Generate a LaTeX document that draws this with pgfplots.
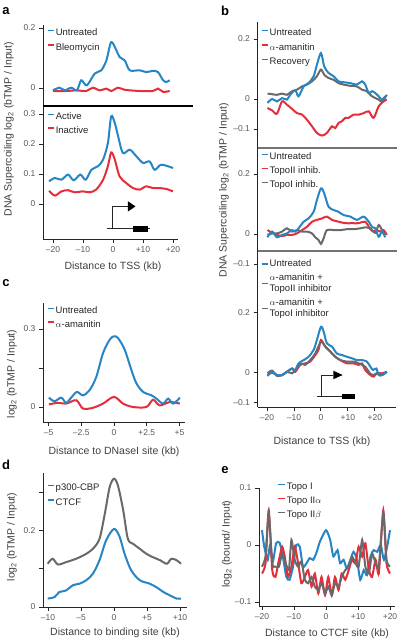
\documentclass[border=0pt]{standalone}
\usepackage{pgfplots}
\pgfplotsset{compat=1.18}
\usepackage{fontspec}
\setmainfont{Liberation Sans}
\definecolor{cblue}{RGB}{38,134,197}
\definecolor{cred}{RGB}{230,45,60}
\definecolor{cgray}{RGB}{105,105,105}
\pgfplotsset{
 base/.style={scale only axis, anchor=south west,
   axis line style={line width=0.9pt, black!85},
   tick style={line width=0.9pt, black!85}, major tick length=4pt, tick align=outside,
   ticklabel style={font=\fontsize{8.5}{9}\selectfont, text=black!65},
   legend cell align=left,
   legend style={draw=none, fill=none, inner sep=0pt, row sep=2.5pt,
     font=\fontsize{9.5}{11}\selectfont, text=black!85, anchor=north west,
     nodes={inner sep=1pt, text depth=0.25em, text height=0.75em}},
   legend image code/.code={\draw[##1, line width=1.5pt] (0pt,0.3em) -- (6pt,0.3em);},
   every axis plot/.append style={line width=2pt, smooth, tension=0.5, no markers},
 },
 top/.style={base, axis x line=none, axis y line*=left, xtick=\empty},
 bot/.style={base, axis x line*=bottom, axis y line*=left},
}
\begin{document}
\begin{tikzpicture}
\useasboundingbox (0pt,0pt) rectangle (400pt,642pt);
% ---------------- panel a top
\begin{axis}[top, at={(43pt,536pt)}, width=135pt, height=81pt,
  xmin=-23.33, xmax=21.67, ymin=-0.06, ymax=0.21,
  ytick={0,0.2}, yticklabels={0,0.2}, legend style={at={(0.03,0.972)}}]
\addlegendimage{cblue}\addlegendentry{Untreated}
\addlegendimage{cred}\addlegendentry{Bleomycin}
\addplot[cred, forget plot] coordinates {(-20,-0.01) (-15.6,-0.01) (-12.2,-0.008) (-8.9,-0.01) (-6.7,0.001) (-4.4,-0.008) (-2.2,-0.002) (-0.6,-0.01) (1.7,0.001) (3.9,-0.006) (8.9,-0.01) (13.3,-0.01) (15,-0.002) (16.7,-0.013) (18.9,-0.01)};
\addplot[cblue, forget plot] coordinates {(-20,-0.0078) (-17.8,0.001) (-16.1,-0.0078) (-13.9,0.001) (-12,-0.0078) (-10.6,0.0256) (-8.7,0.0089) (-6.1,0.048) (-3.9,0.059) (-2.2,0.092) (-0.6,0.153) (1.1,0.126) (2.2,0.103) (3.9,0.092) (5.6,0.059) (8.9,0.059) (11.1,0.053) (13.3,0.057) (15,0.053) (16.7,0.026) (17.8,0.02) (18.9,0.026)};
\end{axis}
% ---------------- panel a bottom
\begin{axis}[bot, at={(43pt,403pt)}, width=135pt, height=133pt,
  xmin=-23.33, xmax=21.67, ymin=-0.1167, ymax=0.3267,
  ytick={0,0.1,0.2,0.3}, yticklabels={0,0.1,0.2,0.3},
  xtick={-20,-10,0,10,20}, xticklabels={–20,–10,0,+10,+20},
  legend style={at={(0.03,0.961)}, row sep=1.5pt}]
\addlegendimage{cblue}\addlegendentry{Active}
\addlegendimage{cred}\addlegendentry{Inactive}
\addplot[cred, forget plot] coordinates {(-21.3,0.044) (-19.4,0.028) (-17.2,0.042) (-15,0.046) (-12.8,0.039) (-10,0.042) (-7.8,0.039) (-5.6,0.048) (-3.3,0.081) (-1.7,0.126) (-0.6,0.172) (0.6,0.148) (2.2,0.092) (4.4,0.07) (6.7,0.053) (8.9,0.048) (11.1,0.059) (13.3,0.053) (15.6,0.053) (17.8,0.05) (20,0.042)};
\addplot[cblue, forget plot] coordinates {(-21.3,0.0756) (-19.4,0.0867) (-17.2,0.081) (-15,0.098) (-13.1,0.079) (-10.9,0.098) (-9.1,0.081) (-7.2,0.114) (-5,0.126) (-3.3,0.148) (-1.7,0.203) (-0.6,0.292) (0.6,0.27) (1.7,0.226) (3.3,0.17) (5.6,0.181) (7.8,0.159) (10,0.137) (12.2,0.142) (13.9,0.114) (16.1,0.131) (20,0.12)};
\draw[black!85, line width=0.8pt] (axis cs:-0.33,-0.083) -- (axis cs:-0.33,-0.008) -- (axis cs:5,-0.008);
\fill[black] (axis cs:5,0.009) -- (axis cs:7.5,-0.008) -- (axis cs:5,-0.025) -- cycle;
\draw[black!85, line width=0.8pt] (axis cs:-2,-0.083) -- (axis cs:12.3,-0.083);
\fill[black] (axis cs:6.7,-0.074) rectangle (axis cs:11.7,-0.092);
\end{axis}
\draw[black, line width=1.1pt] (43pt,536pt) -- (193pt,536pt);
% ---------------- panel b top
\begin{axis}[top, at={(257.5pt,494pt)}, width=138.5pt, height=126pt,
  xmin=-23.5, xmax=27.8, ymin=-0.1633, ymax=0.2567,
  ytick={-0.1,0,0.2}, yticklabels={–0.1,0,0.2}, legend style={at={(0.025,0.958)}}]
\addlegendimage{cblue}\addlegendentry{Untreated}
\addlegendimage{cred}\addlegendentry{$\alpha$-amanitin}
\addlegendimage{cgray}\addlegendentry{Recovery}
\addplot[cred, forget plot] coordinates {(-19.8,-0.03) (-18.1,-0.038) (-16.3,-0.049) (-14.4,-0.008) (-12.6,-0.019) (-10.7,-0.033) (-8.9,-0.047) (-7,-0.052) (-5.2,-0.069) (-3.3,-0.091) (-1.5,-0.113) (0.4,-0.122) (2.2,-0.113) (4.1,-0.091) (5.3,-0.097) (6.5,-0.08) (7.8,-0.074) (9,-0.063) (10.2,-0.063) (12.1,-0.052) (14,-0.052) (15.8,-0.047) (17.7,-0.041) (19.5,-0.063) (21.4,-0.024) (23.2,-0.008) (24.4,-0.002)};
\addplot[cgray, forget plot] coordinates {(-19.8,0.018) (-18.1,0.016) (-16.3,0.014) (-14.4,0.018) (-12.6,0.014) (-10.7,0.026) (-8.9,0.031) (-7,0.042) (-5.2,0.048) (-3.3,0.059) (-1.5,0.076) (0,0.098) (1.2,0.081) (2.8,0.07) (4.7,0.064) (6.5,0.053) (8.4,0.048) (10.9,0.044) (13.3,0.042) (15.2,0.031) (17,0.026) (18.9,0.009) (21.4,-0.002) (22.6,-0.008) (24.4,0.014)};
\addplot[cblue, forget plot] coordinates {(-19.8,-0.013) (-18.1,0) (-16.3,-0.008) (-14.4,0.003) (-12.6,-0.002) (-11.4,0.014) (-9.5,0.029) (-8.3,0.009) (-6.4,0.042) (-4.6,0.053) (-2.7,0.076) (-1.5,0.114) (0,0.153) (1.2,0.109) (2.8,0.087) (4.7,0.076) (6.5,0.059) (8.4,0.056) (10.9,0.053) (13.3,0.048) (15.2,0.059) (16.4,0.048) (17.7,0.02) (18.9,0.026) (20.1,0.02) (21.4,0.009) (22.6,-0.002) (23.8,0.009)};
\end{axis}
% ---------------- panel b middle
\begin{axis}[top, at={(257.5pt,378pt)}, width=138.5pt, height=116pt,
  xmin=-23.5, xmax=27.8, ymin=-0.1, ymax=0.2867,
  ytick={-0.1,0,0.2}, yticklabels={–0.1,0,0.2}, legend style={at={(0.025,0.972)}, row sep=2pt}]
\addlegendimage{cblue}\addlegendentry{Untreated}
\addlegendimage{cred}\addlegendentry{TopoII inhib.}
\addlegendimage{cgray}\addlegendentry{TopoI inhib.}
\addplot[cred, forget plot] coordinates {(-19.8,0.013) (-18.1,0.004) (-16.3,-0.003) (-14.4,-0.007) (-12.6,-0.003) (-10.7,-0.003) (-8.9,0.002) (-7,0.013) (-5.2,0.024) (-3.3,0.041) (-1.5,0.047) (0.4,0.052) (2.2,0.058) (4.1,0.047) (6.5,0.041) (9,0.036) (11.5,0.036) (14,0.036) (16.4,0.041) (18.3,0.016) (19.5,0.008) (20.7,0.013) (22,0.008) (23.2,0.013) (24.4,-0.003)};
\addplot[cgray, forget plot] coordinates {(-19.8,-0.003) (-18.1,0.002) (-16.3,0.002) (-14.4,0.008) (-12.6,0.019) (-10.7,0.008) (-8.9,0.013) (-7,0.008) (-5.2,0.008) (-3.3,0.002) (-2.1,-0.011) (-0.9,-0.02) (0,-0.033) (1,-0.014) (2.2,0.013) (4.7,0.013) (7.2,0.013) (9.6,0.016) (12.1,0.016) (14.6,0.019) (16.4,0.022) (18.3,0.019) (20.1,0.004) (21.4,0.03) (22.6,0.013) (23.8,-0.003)};
\addplot[cblue, forget plot] coordinates {(-19.8,-0.011) (-18.1,0.008) (-16.3,-0.011) (-14.4,-0.003) (-12.6,0.002) (-10.7,0.013) (-9.5,0.008) (-8.3,0.019) (-6.4,0.041) (-4.6,0.052) (-2.7,0.074) (-1.5,0.113) (0,0.152) (1.2,0.136) (2.8,0.091) (4.7,0.08) (6.5,0.074) (8.4,0.063) (10.9,0.058) (13.3,0.047) (15.8,0.058) (17.7,0.041) (18.9,0.024) (20.1,0.019) (21.4,-0.009) (22.6,0.008) (23.8,-0.011)};
\end{axis}
% ---------------- panel b bottom
\begin{axis}[bot, at={(257.5pt,234.5pt)}, width=138.5pt, height=143.5pt,
  xmin=-23.5, xmax=27.8, ymin=-0.116, ymax=0.3623,
  ytick={-0.1,0,0.2}, yticklabels={–0.1,0,0.2},
  xtick={-20,-10,0,10,20}, xticklabels={–20,–10,0,+10,+20},
  legend style={at={(0.025,1.047)}, row sep=1pt, nodes={inner sep=1pt, text depth={}, text height={}}},
  legend image code/.code={\draw[#1, line width=1.5pt] (0pt,0pt) -- (6pt,0pt);}]
\addlegendimage{cblue}\addlegendentry{\begin{tabular}{@{}l@{}}Untreated\end{tabular}}
\addlegendimage{cred}\addlegendentry{\begin{tabular}{@{}l@{}}$\alpha$-amanitin +\\TopoII inhibitor\end{tabular}}
\addlegendimage{cgray}\addlegendentry{\begin{tabular}{@{}l@{}}$\alpha$-amanitin +\\TopoI inhibitor\end{tabular}}
\addplot[cred, forget plot] coordinates {(-19.8,-0.008) (-18.1,0) (-16.3,-0.008) (-14.4,-0.008) (-12.6,0.003) (-10.7,0.014) (-9.5,0.003) (-7.7,0.026) (-5.8,0.031) (-4,0.037) (-2.1,0.059) (-0.9,0.076) (0,0.109) (1.6,0.087) (3.5,0.07) (5.3,0.053) (7.2,0.042) (9.6,0.031) (12.1,0.031) (14,0.026) (15.2,0.031) (16.4,0.009) (18.3,-0.008) (19.5,-0.013) (20.7,-0.002) (22.6,-0.002) (24.4,0.003)};
\addplot[cgray, forget plot] coordinates {(-19.8,-0.002) (-18.1,0.007) (-16.3,-0.011) (-14.4,-0.008) (-12.6,0.003) (-10.7,-0.002) (-9.5,0.009) (-7.7,0.031) (-5.8,0.026) (-4,0.042) (-2.1,0.064) (0,0.103) (1.6,0.087) (3.5,0.07) (5.3,0.053) (7.2,0.042) (9.6,0.037) (12.1,0.037) (14,0.031) (16.4,0.02) (18.3,-0.004) (19.5,-0.008) (20.7,-0.002) (22.6,-0.008) (24.4,0.003)};
\addplot[cblue, forget plot] coordinates {(-19.8,-0.011) (-18.1,0.003) (-16.3,-0.008) (-14.4,-0.008) (-12.6,0.003) (-10.7,0.014) (-9.5,0.009) (-8.3,0.031) (-6.4,0.042) (-4.6,0.053) (-2.7,0.076) (-1.5,0.109) (0,0.153) (1,0.137) (2.2,0.098) (4.1,0.087) (5.9,0.064) (7.8,0.059) (9.6,0.053) (11.5,0.048) (13.3,0.042) (15.2,0.042) (17,0.037) (18.3,0.02) (19.3,0.009) (20.5,0.014) (21.4,-0.008) (22.6,-0.008) (24.4,0.003)};
\draw[black!85, line width=0.8pt] (axis cs:0.26,-0.08) -- (axis cs:0.26,-0.0077) -- (axis cs:4.56,-0.0077);
\fill[black] (axis cs:4.56,0.0066) -- (axis cs:8.04,-0.0077) -- (axis cs:4.56,-0.022) -- cycle;
\draw[black!85, line width=0.8pt] (axis cs:-1.6,-0.08) -- (axis cs:12.6,-0.08);
\fill[black] (axis cs:7.67,-0.072) rectangle (axis cs:12.6,-0.088);
\end{axis}
\draw[black!55, line width=1.3pt] (257.5pt,494pt) -- (397pt,494pt);
\draw[black!55, line width=1.3pt] (257.5pt,391pt) -- (397pt,391pt);
% ---------------- panel c
\begin{axis}[bot, at={(43pt,220pt)}, width=142pt, height=119pt,
  xmin=-5.42, xmax=5.42, ymin=-0.0577, ymax=0.4,
  ytick={0,0.15,0.3}, yticklabels={0,,0.3},
  xtick={-5,-2.5,0,2.5,5}, xticklabels={–5,–2.5,0,+2.5,+5},
  legend style={at={(0.028,0.981)}, row sep=1.5pt}]
\addlegendimage{cblue}\addlegendentry{Untreated}
\addlegendimage{cred}\addlegendentry{$\alpha$-amanitin}
\addplot[cred, forget plot] coordinates {(-4.97,0.01) (-4.29,0.016) (-3.65,0.013) (-2.88,0.026) (-2.37,-0.006) (-1.61,-0.003) (-0.84,0.013) (0,0.039) (0.69,0.013) (1.45,0) (2.47,0) (2.98,0.028) (3.49,0.006) (4.26,0.019) (5.03,0.013)};
\addplot[cblue, forget plot] coordinates {(-4.97,0.036) (-4.54,0.022) (-4.03,0.036) (-3.65,0.016) (-3.27,0.036) (-2.83,0.058) (-2.37,0.045) (-1.86,0.065) (-1.35,0.116) (-0.84,0.207) (-0.33,0.259) (0,0.272) (0.31,0.265) (0.82,0.22) (1.33,0.142) (1.71,0.091) (2.22,0.058) (2.86,0.045) (3.24,0.032) (3.75,0.013) (4.13,0.032) (4.52,0.013) (5.03,0.036)};
\end{axis}
% ---------------- panel d
\begin{axis}[bot, at={(43pt,35pt)}, width=144pt, height=134pt,
  xmin=-10.76, xmax=11.06, ymin=0, ymax=0.35,
  ytick={0,0.1,0.2,0.3}, yticklabels={0,,0.2,},
  xtick={-10,-5,0,5,10}, xticklabels={–10,–5,0,+5,+10},
  legend style={at={(0.028,0.931)}}]
\addlegendimage{cgray}\addlegendentry{p300-CBP}
\addlegendimage{cblue}\addlegendentry{CTCF}
\addplot[cgray, forget plot] coordinates {(-10.05,0.113) (-9.3,0.126) (-8.5,0.111) (-7.3,0.117) (-6.2,0.123) (-5.2,0.13) (-4.2,0.139) (-3.2,0.152) (-2.2,0.178) (-1.4,0.243) (-0.66,0.313) (0,0.335) (0.6,0.317) (1.4,0.252) (2.1,0.178) (2.9,0.165) (3.9,0.152) (4.9,0.139) (5.9,0.13) (7,0.122) (8,0.113) (8.7,0.126) (9.5,0.122) (10.15,0.113)};
\addplot[cblue, forget plot] coordinates {(-10.05,0.022) (-9,0.026) (-8.3,0.039) (-7.3,0.043) (-6.2,0.057) (-5.2,0.061) (-4.2,0.07) (-3.2,0.087) (-2.2,0.122) (-1.2,0.174) (0,0.204) (0.86,0.183) (1.6,0.139) (2.6,0.096) (3.9,0.07) (5.4,0.061) (6.4,0.052) (7.5,0.039) (8.5,0.03) (9.5,0.022) (10.15,0.022)};
\end{axis}
% ---------------- panel e
\begin{axis}[bot, at={(259pt,36pt)}, width=136pt, height=118pt,
  xmin=-20.94, xmax=21.56, ymin=-0.107, ymax=0.1,
  ytick={-0.1,0,0.1}, yticklabels={–0.1,0,0.1},
  xtick={-20,-10,0,10,20}, xticklabels={–20,–10,0,+10,+20},
  every axis plot/.append style={tension=0.35},
  legend style={at={(0.132,1.057)}, row sep=2pt},
  legend image code/.code={\draw[#1, line width=1.7pt] (0pt,0.3em) -- (7pt,0.3em);}]
\addlegendimage{cblue}\addlegendentry{Topo I}
\addlegendimage{cred}\addlegendentry{Topo II$\alpha$}
\addlegendimage{cgray}\addlegendentry{Topo II$\beta$}
\addplot[cblue, forget plot] coordinates {(-20,0.026) (-19.3,-0.003) (-18.2,-0.026) (-17.5,0) (-16.6,-0.029) (-15.6,0.003) (-14.5,0.004) (-13.5,-0.02) (-12.4,-0.056) (-11.4,-0.061) (-10.3,-0.038) (-9.3,0) (-8.2,-0.003) (-7.2,-0.038) (-6.1,-0.032) (-5.1,-0.023) (-4,-0.026) (-2.9,-0.012) (-1.9,0.006) (0,0.026) (1.3,0.009) (2.3,-0.02) (3.6,-0.009) (4.4,-0.032) (5.5,-0.026) (6.5,-0.041) (7.6,-0.026) (8.6,-0.012) (9.7,-0.026) (10.7,-0.061) (11.8,-0.044) (12.8,-0.053) (13.9,-0.02) (14.9,-0.009) (16,-0.012) (17.1,0) (18.1,-0.026) (19.2,0) (20,0.026)};
\addplot[cred, forget plot] coordinates {(-20,-0.05) (-18.9,-0.032) (-17.9,0.061) (-16.8,-0.044) (-15.8,-0.056) (-14.7,-0.026) (-13.7,-0.003) (-12.9,-0.02) (-11.9,-0.056) (-10.8,-0.038) (-9.8,-0.003) (-8.7,-0.032) (-7.7,-0.067) (-6.6,-0.056) (-5.6,-0.044) (-4.5,-0.073) (-3.5,-0.05) (-2.4,-0.085) (-1.4,-0.056) (-0.3,-0.088) (0.7,-0.056) (1.8,-0.088) (2.8,-0.056) (3.9,-0.079) (4.9,-0.05) (6,-0.061) (7.1,-0.044) (8.1,-0.026) (9.2,-0.032) (10.2,-0.003) (11.3,-0.02) (12.3,0.003) (13.4,-0.044) (14.4,-0.056) (15.5,-0.026) (16.5,-0.05) (17.9,0.061) (18.9,-0.032) (20,-0.05)};
\addplot[cgray, forget plot] coordinates {(-20,-0.038) (-18.9,-0.02) (-17.9,0.056) (-16.8,-0.032) (-15.8,-0.038) (-14.7,-0.038) (-13.7,-0.015) (-12.6,-0.032) (-11.6,-0.044) (-10.8,0.009) (-9.8,-0.026) (-8.7,-0.038) (-7.7,-0.029) (-6.6,-0.061) (-5.6,-0.067) (-4.5,-0.056) (-3.5,-0.073) (-2.4,-0.079) (-1.4,-0.067) (-0.3,-0.085) (0.7,-0.073) (1.8,-0.088) (2.8,-0.067) (3.9,-0.073) (4.9,-0.056) (6,-0.044) (7.1,-0.038) (8.1,-0.02) (9.2,-0.032) (10.2,-0.038) (11.3,0.009) (12.3,-0.038) (13.4,-0.05) (14.4,-0.015) (15.5,-0.032) (16.5,-0.038) (17.9,0.056) (18.9,-0.026) (20,-0.038)};
\end{axis}
% ---------------- labels
\begin{scope}[every node/.style={font=\fontsize{10.5}{12}\selectfont, text=black!75}]
\node[rotate=90] at (9pt,513pt) {DNA Supercoiling log\textsubscript{2} (bTMP / Input)};
\node[rotate=90] at (224pt,452pt) {DNA Supercoiling log\textsubscript{2} (bTMP / Input)};
\node[rotate=90] at (12pt,268pt) {log\textsubscript{2} (bTMP / Input)};
\node[rotate=90] at (12pt,105pt) {log\textsubscript{2} (bTMP / Input)};
\node[rotate=90] at (227pt,98pt) {log\textsubscript{2} (bound/ Input)};
\node at (113pt,375pt) {Distance to TSS (kb)};
\node at (322pt,200pt) {Distance to TSS (kb)};
\node at (114pt,190pt) {Distance to DNaseI site (kb)};
\node at (115pt,9pt) {Distance to binding site (kb)};
\node at (327pt,8pt) {Distance to CTCF site (kb)};
\end{scope}
\begin{scope}[every node/.style={font=\fontsize{13}{14}\selectfont\bfseries, text=black}]
\node at (6pt,631pt) {a};
\node at (225pt,631pt) {b};
\node at (6pt,359pt) {c};
\node at (6pt,177pt) {d};
\node at (225pt,172pt) {e};
\end{scope}
\end{tikzpicture}
\end{document}
